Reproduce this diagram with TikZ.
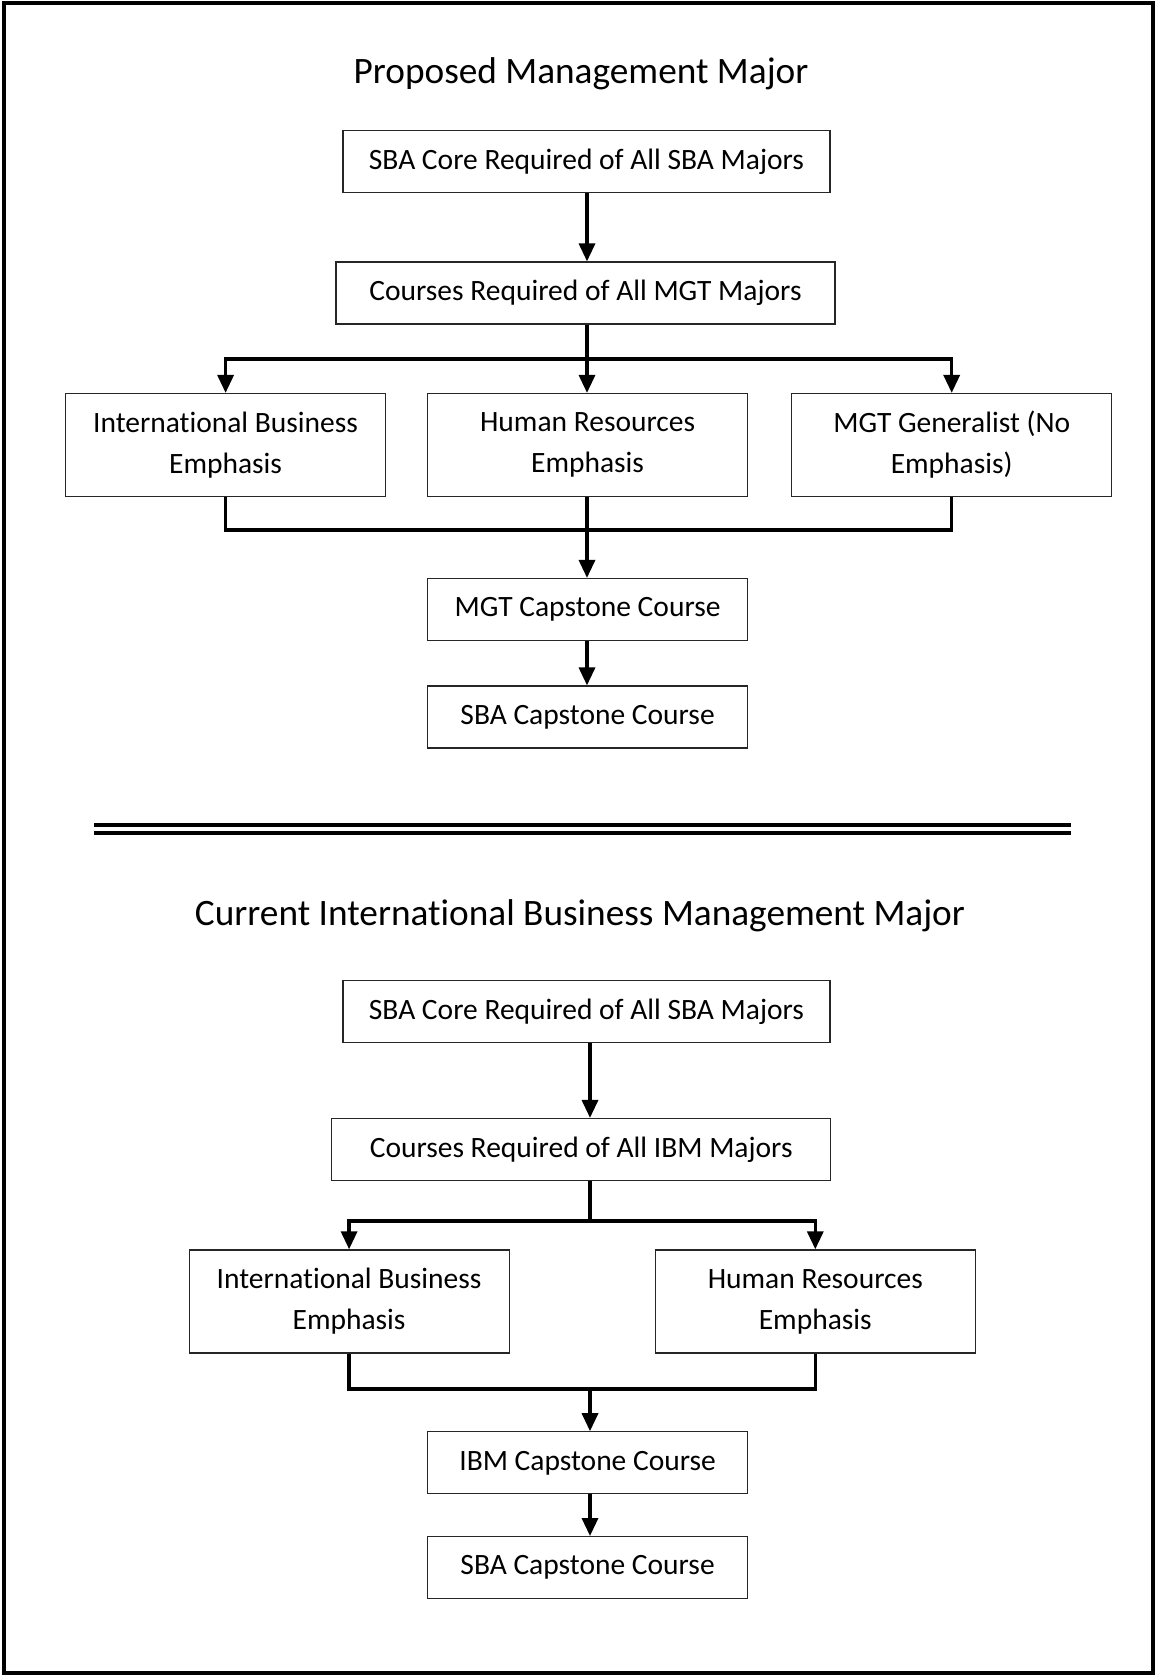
\documentclass[tikz,border=0pt]{standalone}
\usepackage{fontspec}
\setmainfont{Carlito}[Ligatures=NoCommon]
\usetikzlibrary{arrows.meta}
\begin{document}
\begin{tikzpicture}[x=1pt,y=-1pt,
  box/.style={draw=black!85,line width=1.2pt,inner sep=0pt,align=center,
    font=\fontsize{29.5}{41}\selectfont},
  wide/.style={box,minimum width=#1,minimum height=62pt},
  tall/.style={box,minimum width=320pt,minimum height=103pt},
  ttl/.style={inner sep=0pt,font=\fontsize{37.3}{45}\selectfont},
  arr/.style={line width=3.4pt,-{Triangle[length=18pt,width=16pt]}},
  ln/.style={line width=3.4pt}]
\useasboundingbox (0,0) rectangle (1157,1676);
\draw[line width=3.5pt] (4,3) rectangle (1153,1673);

% ---------- Proposed ----------
\node[ttl] (t1) at (581,74) {Proposed Management Major};
\node[wide=487pt] (a1) at (586.5,161.5) {SBA Core Required of All SBA Majors};
\node[wide=499pt] (a2) at (585.5,293) {Courses Required of All MGT Majors};
\node[tall] (a3) at (225.6,445) {International Business\\Emphasis};
\node[tall] (a4) at (587.6,445) {Human Resources\\Emphasis};
\node[tall] (a5) at (951.7,445) {MGT Generalist (No\\Emphasis)};
\node[wide=320pt] (a6) at (587.6,609.5) {MGT Capstone Course};
\node[wide=320pt] (a7) at (587.6,717) {SBA Capstone Course};

\coordinate (j1) at (587,359);
\coordinate (j2) at (587,530);
\draw[arr] (a1.south -| j1) -- (a2.north -| j1);
\draw[ln] (a2.south -| j1) -- (j1);
\draw[arr] (j1) -| (a3.north);
\draw[arr] (j1) -| (a5.north);
\draw[arr] (j1) -- (a4.north -| j1);
\draw[ln] (a3.south) |- (j2) -| (a5.south);
\draw[ln] (a4.south -| j2) -- (j2);
\draw[arr] (j2) -- (a6.north -| j2);
\draw[arr] (a6.south -| j2) -- (a7.north -| j2);

% ---------- separator ----------
\coordinate (d1) at (94,824.5);
\coordinate (d2) at (1071,824.5);
\coordinate (d3) at (94,833);
\coordinate (d4) at (1071,833);
\draw[line width=4pt] (d1) -- (d2);
\draw[line width=4pt] (d3) -- (d4);

% ---------- Current ----------
\node[ttl] (t2) at (580,916) {Current International Business Management Major};
\node[wide=487pt] (b1) at (586.5,1011.6) {SBA Core Required of All SBA Majors};
\node[wide=499pt] (b2) at (581.2,1149.5) {Courses Required of All IBM Majors};
\node[tall] (b3) at (349.1,1301.4) {International Business\\Emphasis};
\node[tall] (b4) at (815.3,1301.4) {Human Resources\\Emphasis};
\node[wide=320pt] (b5) at (587.6,1462.8) {IBM Capstone Course};
\node[wide=320pt] (b6) at (587.6,1567.6) {SBA Capstone Course};

\coordinate (j3) at (590,1221);
\coordinate (j4) at (590,1389);
\draw[arr] (b1.south -| j3) -- (b2.north -| j3);
\draw[ln] (b2.south -| j3) -- (j3);
\draw[arr] (j3) -| (b3.north);
\draw[arr] (j3) -| (b4.north);
\draw[ln] (b3.south) |- (j4) -| (b4.south);
\draw[arr] (j4) -- (b5.north -| j4);
\draw[arr] (b5.south -| j4) -- (b6.north -| j4);
\end{tikzpicture}
\end{document}
